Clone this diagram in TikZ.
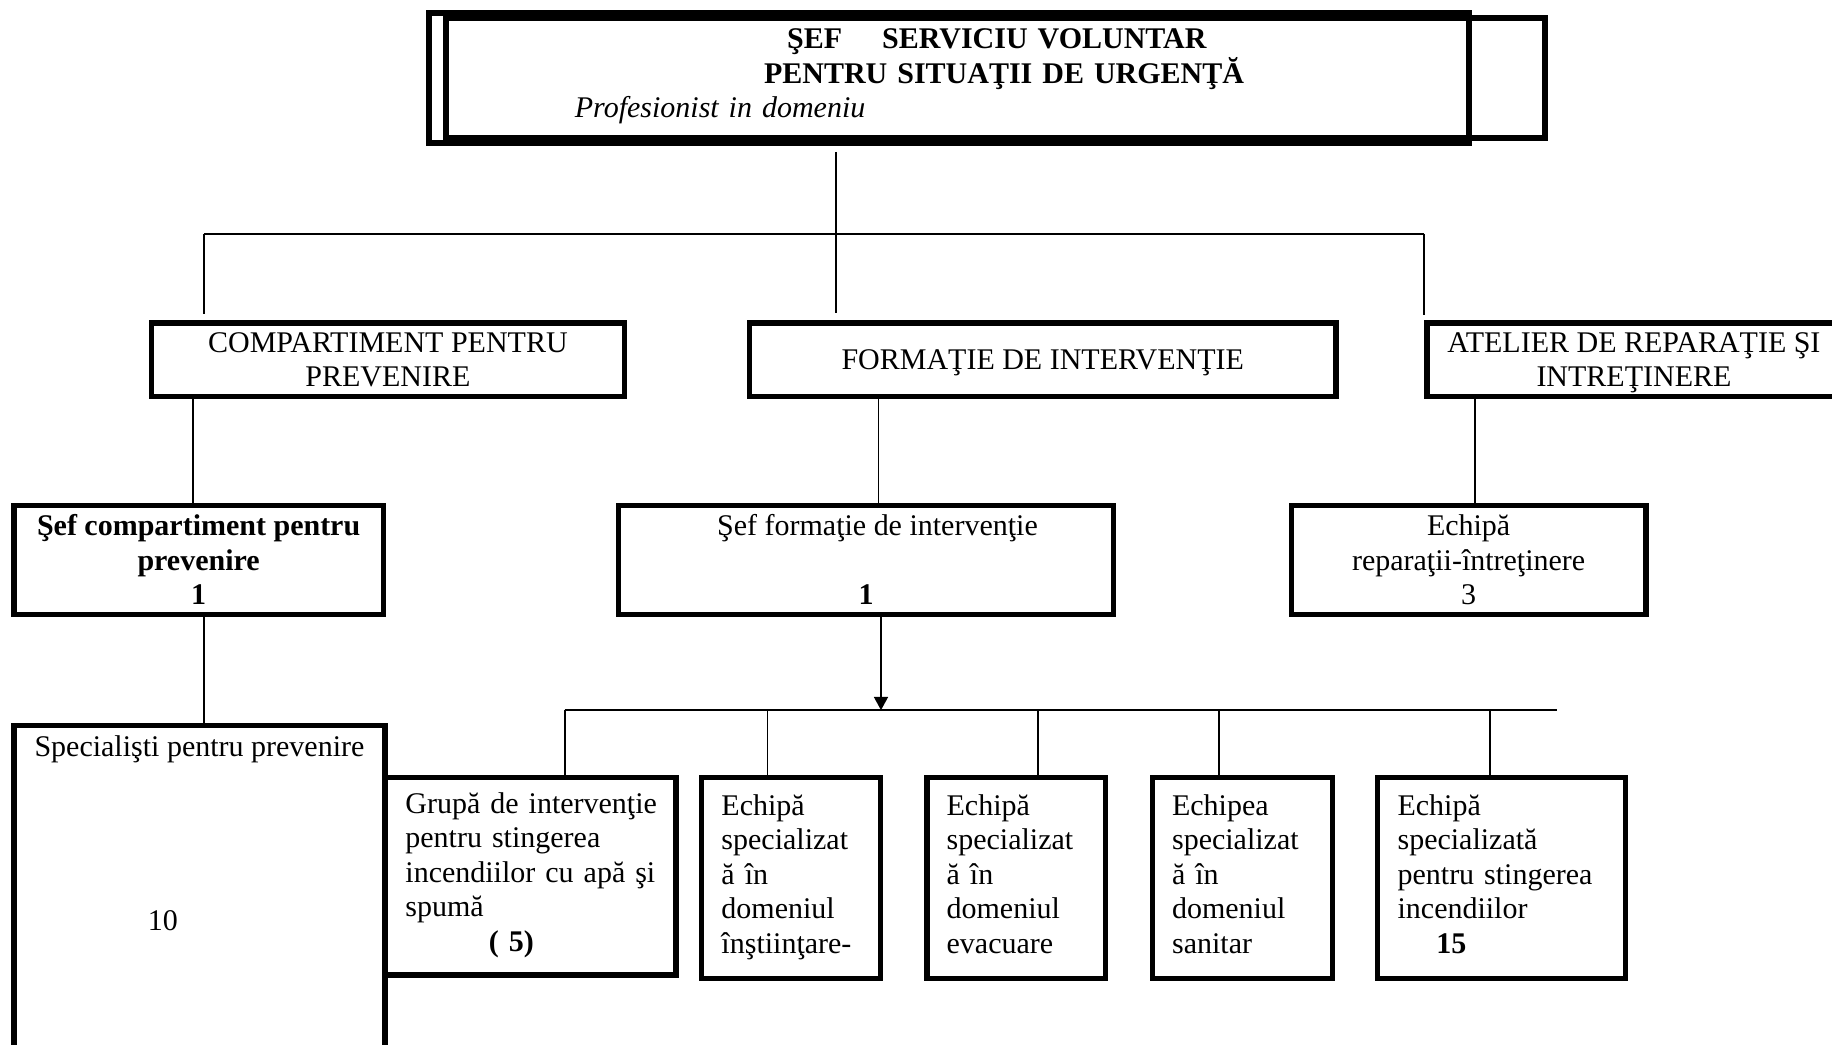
\documentclass[tikz,border=0pt]{standalone}
\usepackage{fontspec}
\setmainfont{Liberation Serif}
\usetikzlibrary{arrows.meta}

\begin{document}
\begin{tikzpicture}[x=0.4674pt, y=-0.4674pt,
		box/.style={draw, line width=2.1pt, inner sep=0pt, font=\fontsize{12pt}{13.8pt}\selectfont, text height=8pt, text depth=0pt},
		team/.style={box, align=left, minimum height=80.6pt, text depth=58.3pt},
		conn/.style={line width=0.7pt}]
	\useasboundingbox (0,0) rectangle (1568,894);
	\clip (0,0) rectangle (1568,894);

	% chief, with its second frame
	\node[box, line width=2.34pt, minimum width=416.2pt, minimum height=52.1pt, align=left, text width=299.4pt, text depth=31.6pt] (sef) at (812.3,66.8)
		{\hspace*{84.9pt}\textbf{ŞEF\ \ \ \ SERVICIU VOLUNTAR}\\\hspace*{75.7pt}\textbf{PENTRU SITUAŢII DE URGENŢĂ}\\\textit{Profesionist in domeniu}};
	\draw[line width=2.34pt] (381.5,15.5) rectangle (1322.5,118.2);

	% departments
	\node[box, minimum width=189.3pt, minimum height=29.4pt, align=center, text height=21.8pt] (compart) at (332,307.8) {COMPARTIMENT PENTRU\\PREVENIRE};
	\node[box, minimum width=234.6pt, minimum height=29.4pt] (formatie) at (892.5,307.8) {FORMAŢIE DE INTERVENŢIE};
	\node[box, minimum width=165.6pt, minimum height=29.4pt, align=center, text height=21.8pt] (atelier) at (1398.5,307.8) {ATELIER DE REPARAŢIE ŞI\\INTREŢINERE};

	% heads
	\node[box, minimum width=147.8pt, minimum height=43.4pt, align=center, text height=35.6pt, font=\fontsize{12pt}{13.8pt}\selectfont\bfseries] (sefcomp) at (170,479.3) {Şef compartiment pentru\\prevenire\\1};
	\node[box, minimum width=198pt, minimum height=43.4pt, align=center, text height=35.6pt] (sefform) at (741.2,479.3) {\hspace*{9.2pt}Şef formaţie de intervenţie\\[13.8pt]\textbf{1}};
	\node[box, minimum width=141.9pt, minimum height=43.4pt, align=center, text height=35.6pt] (echrep) at (1257,479.3) {Echipă\\reparaţii-întreţinere\\3};

	% teams
	\node[box, anchor=north, minimum width=148.4pt, inner ysep=4.1pt, text height=77.6pt, text depth=200pt, align=center] (spec) at (170.7,619) {Specialişti pentru prevenire\\[55.8pt]\hspace*{-29.2pt}10};
	\node[team, minimum width=116.1pt, minimum height=79pt, text width=100.3pt] (grupa) at (454.3,750)
		{\mbox{Grupă de intervenţie}\\pentru stingerea\\\mbox{incendiilor cu apă şi}\\spumă\\\hspace*{33.4pt}\textbf{( 5)}};
	\foreach \n/\x/\w/\tw/\txt in {ech1/677/71.4pt/55.6pt/{Echipă\\specializat\\ă în\\domeniul\\\mbox{înştiinţare-}},
			ech2/869.9/71.6pt/55.8pt/{Echipă\\specializat\\ă în\\domeniul\\evacuare},
			ech3/1063.3/72pt/56.2pt/{Echipea\\specializat\\ă în\\domeniul\\sanitar},
			ech4/1285.3/99.1pt/83.3pt/{Echipă\\specializată\\\mbox{pentru stingerea}\\incendiilor\\\hspace*{15.5pt}\textbf{15}}}
		\node[team, minimum width=\w, text width=\tw] (\n) at (\x,751.5) {\txt};

	% upper connectors
	\coordinate (busL) at (174.6,200);
	\coordinate (busM) at (715.5,200);
	\coordinate (busR) at (1218.5,200);
	\draw[conn] (busL) -- (busR);
	\draw[conn, shorten <=2.3pt, shorten >=2.8pt] (busM |- sef.south) -- (busM |- formatie.north);
	\draw[conn, shorten >=2.5pt] (busL) -- (busL |- compart.north);
	\draw[conn, shorten >=2pt] (busR) -- (busR |- atelier.north);
	\draw[conn] ([xshift=-2.1pt]sefcomp.north) -- ([xshift=-2.1pt]sefcomp.north |- compart.south);
	\draw[conn] ([xshift=5pt]sefform.north) -- ([xshift=5pt]sefform.north |- formatie.south);
	\draw[conn] ([xshift=2.6pt]echrep.north) -- ([xshift=2.6pt]echrep.north |- atelier.south);
	\draw[conn] ([xshift=1.8pt]spec.north) -- ([xshift=1.8pt]spec.north |- sefcomp.south);

	% lower connectors
	\coordinate (busL2) at (483.3,607.8);
	\coordinate (busR2) at (1332.6,607.8);
	\draw[conn] (busL2) -- (busR2);
	\draw[conn, -{Triangle[width=5.6pt,length=5.3pt]}] ([xshift=6pt]sefform.south) -- ([xshift=6pt]sefform.south |- busL2);
	\foreach \n/\dx in {grupa/13.6pt, ech1/-9.4pt, ech2/8.8pt, ech3/-9.3pt, ech4/-4.8pt}
		\draw[conn] ([xshift=\dx]\n.north |- busL2) -- ([xshift=\dx]\n.north);
\end{tikzpicture}
\end{document}
